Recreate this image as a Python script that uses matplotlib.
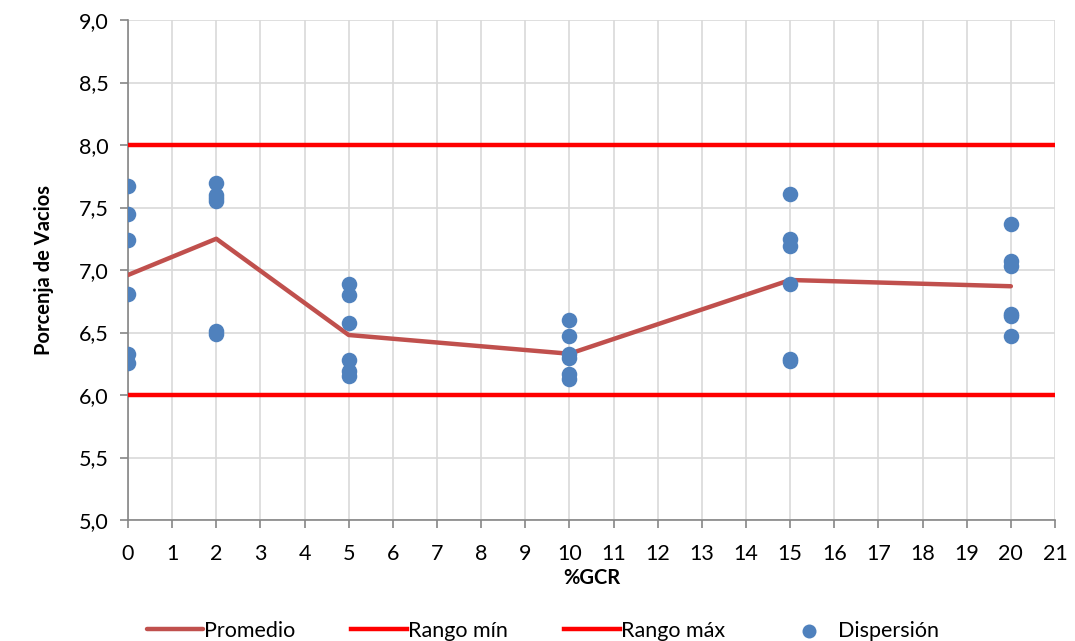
import matplotlib
matplotlib.use("Agg")
import matplotlib.pyplot as plt
from matplotlib.ticker import FuncFormatter, MultipleLocator

plt.rcParams['font.family'] = ['Lato', 'DejaVu Sans']

# %GCR levels and mean void percentage
gcr = [0, 2, 5, 10, 15, 20]
promedio = [6.96, 7.25, 6.48, 6.33, 6.92, 6.87]

# individual specimen results per %GCR level
disp_x = [0] * 6 + [2] * 6 + [5] * 6 + [10] * 6 + [15] * 6 + [20] * 6
disp_y = [7.67, 7.45, 7.24, 6.81, 6.33, 6.26,
          7.70, 7.60, 7.58, 7.55, 6.51, 6.49,
          6.89, 6.80, 6.58, 6.28, 6.19, 6.15,
          6.60, 6.47, 6.33, 6.30, 6.17, 6.13,
          7.61, 7.25, 7.19, 6.89, 6.29, 6.27,
          7.37, 7.07, 7.03, 6.65, 6.63, 6.47]

rango_min = 6.0
rango_max = 8.0
x_range = [0, 21]

fig = plt.figure(figsize=(10.75, 6.41), dpi=100)
ax = fig.add_axes([128 / 1075, 1 - 520 / 641, (1055 - 128) / 1075, 500 / 641])

ax.plot(gcr, promedio, color='#C0504D', lw=3.2, label='Promedio', zorder=3,
        solid_capstyle='round')
ax.plot(x_range, [rango_min] * 2, color='#FF0000', lw=3.2, label='Rango mín', zorder=3)
ax.plot(x_range, [rango_max] * 2, color='#FF0000', lw=3.2, label='Rango máx', zorder=3)
ax.scatter(disp_x, disp_y, s=125, color='#4F81BD', label='Dispersión', zorder=4,
           linewidths=0)

ax.set_xlim(0, 21)
ax.set_ylim(5, 9)
ax.xaxis.set_major_locator(MultipleLocator(1))
ax.yaxis.set_major_locator(MultipleLocator(0.5))
ax.yaxis.set_major_formatter(FuncFormatter(lambda v, p: f"{v:.1f}".replace('.', ',')))

ax.grid(True, color='#D9D9D9', lw=1.2, zorder=0)
ax.set_axisbelow(True)
for s in ['top', 'right']:
    ax.spines[s].set_visible(False)
for s in ['left', 'bottom']:
    ax.spines[s].set_color('#868686')
    ax.spines[s].set_linewidth(1.2)
ax.tick_params(axis='both', direction='out', length=6, width=1.2, color='#868686',
               labelsize=15.5, labelcolor='black')
ax.tick_params(axis='x', pad=11)
ax.tick_params(axis='y', pad=8)

ax.set_xlabel('%GCR', fontsize=14.5, fontweight='bold', labelpad=3)
ax.set_ylabel('Porcenja de Vacios', fontsize=14.5, fontweight='bold', labelpad=18)

fig.legend(loc='lower center', bbox_to_anchor=(0.505, -0.03), ncol=4, frameon=False,
           fontsize=15.5, handlelength=2.6, handletextpad=0.05, columnspacing=2.6,
           markerscale=0.9)

fig.savefig('out.png', dpi=100)
